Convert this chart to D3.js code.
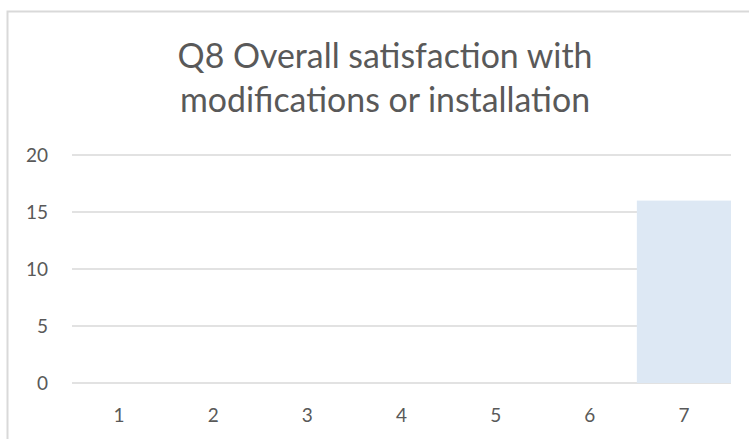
<!DOCTYPE html>
<html>
<head>
<meta charset="utf-8">
<script src="https://cdn.jsdelivr.net/npm/d3@7"></script>
<style>
  html, body { margin: 0; padding: 0; background: #fff; }
  svg { display: block; }
  text { font-family: Lato, "Open Sans", sans-serif; fill: #595959; }
</style>
</head>
<body>
<svg id="chart" width="749" height="439"></svg>
<script>
// data
let categories = ['1', '2', '3', '4', '5', '6', '7']
let counts = [0, 0, 0, 0, 0, 0, 16]
let yTicks = [0, 5, 10, 15, 20]
let titleLines = ['Q8 Overall satisfaction with', 'modifications or installation']

let plotLeft = 72, plotRight = 731
let plotTop = 155, plotBottom = 383
let titleCenter = 385 // the chart frame runs past the right edge, so the title sits left of the plot middle

let svg = d3.select('#chart')

// chart frame (runs past the right/bottom edge of the picture)
svg.append('rect')
  .attr('x', 7.5)
  .attr('y', 11.5)
  .attr('width', 800)
  .attr('height', 500)
  .attr('fill', 'none')
  .attr('stroke', '#d9d9d9')
  .attr('stroke-width', 2)

let x = d3.scaleBand()
  .domain(categories)
  .range([plotLeft, plotRight])
  .padding(0)

let y = d3.scaleLinear()
  .domain([0, 20])
  .range([plotBottom, plotTop])

// gridlines
svg.append('g').selectAll('line')
  .data(yTicks)
  .enter()
  .append('line')
  .attr('x1', plotLeft)
  .attr('x2', plotRight)
  .attr('y1', d => y(d))
  .attr('y2', d => y(d))
  .attr('stroke', '#d9d9d9')
  .attr('stroke-width', 1.5)

// bars
svg.append('g').selectAll('rect')
  .data(counts)
  .enter()
  .append('rect')
  .attr('x', (d, i) => x(categories[i]))
  .attr('width', x.bandwidth())
  .attr('y', d => y(d))
  .attr('height', d => y(0) - y(d))
  .attr('fill', '#dde8f4')

// y labels
svg.append('g').selectAll('text')
  .data(yTicks)
  .enter()
  .append('text')
  .text(d => d)
  .attr('x', 48)
  .attr('y', d => y(d) + 7)
  .attr('text-anchor', 'end')
  .style('font-size', '19px')

// x labels
svg.append('g').selectAll('text')
  .data(categories)
  .enter()
  .append('text')
  .text(d => d)
  .attr('x', d => x(d) + x.bandwidth() / 2)
  .attr('y', 422)
  .attr('text-anchor', 'middle')
  .style('font-size', '19px')

// title, sized so the first line spans about 415px like the reference
let title = svg.append('g').selectAll('text')
  .data(titleLines)
  .enter()
  .append('text')
  .text(d => d)
  .attr('x', titleCenter)
  .attr('y', (d, i) => 68 + i * 44)
  .attr('text-anchor', 'middle')
  .style('font-size', '32px')

let measured = title.node().getComputedTextLength()
title.style('font-size', (32 * 415 / measured) + 'px')
</script>
</body>
</html>
